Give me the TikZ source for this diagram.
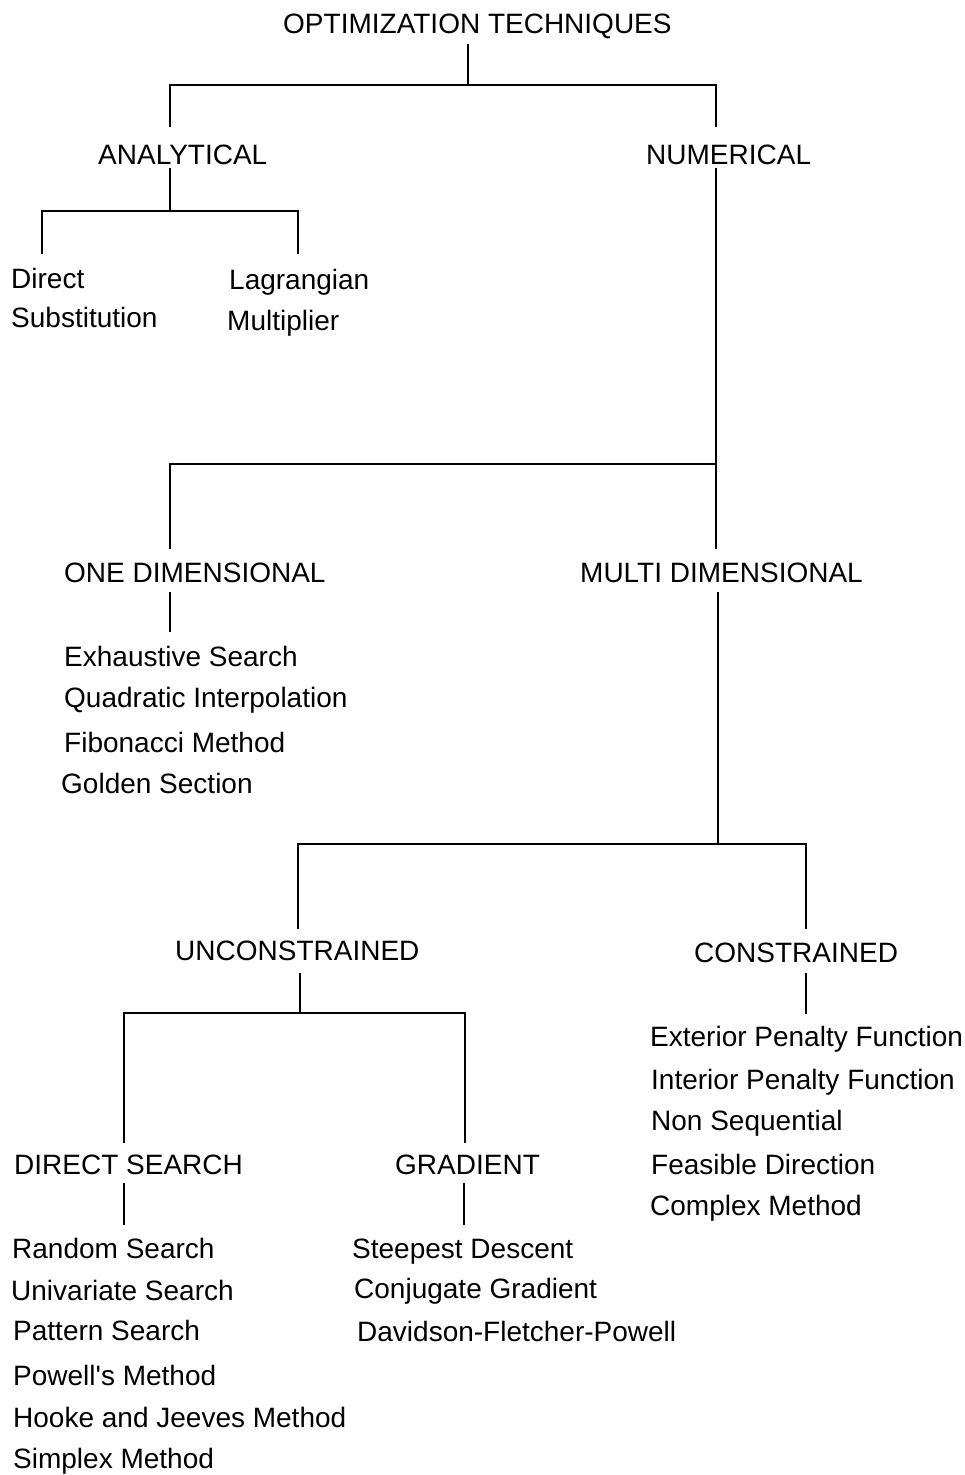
\documentclass[tikz,border=0pt]{standalone}
\usepackage{fontspec}
\setmainfont{Liberation Sans}
\begin{document}
\begin{tikzpicture}[x=1pt,y=-1pt,
  lbl/.style={anchor=base west,inner sep=0pt,font=\fontsize{28}{34}\selectfont},
  tree/.style={line width=1.8pt,line cap=butt,line join=miter}]
\useasboundingbox (0,0) rectangle (965,1475);

% ---------- labels ----------
\node[lbl] (opt)   at (283,33)  {OPTIMIZATION TECHNIQUES};
\node[lbl] (ana)   at (98,164)  {ANALYTICAL};
\node[lbl] (num)   at (646,164) {NUMERICAL};
\node[lbl] (ds1)   at (11,288)  {Direct};
\node[lbl] (ds2)   at (11,327)  {Substitution};
\node[lbl] (lm1)   at (229,289) {Lagrangian};
\node[lbl] (lm2)   at (227,330) {Multiplier};
\node[lbl] (one)   at (64,582)  {ONE DIMENSIONAL};
\node[lbl] (multi) at (580,582) {MULTI DIMENSIONAL};
\node[lbl] (o1)    at (64,666)  {Exhaustive Search};
\node[lbl] (o2)    at (64,707)  {Quadratic Interpolation};
\node[lbl] (o3)    at (64,752)  {Fibonacci Method};
\node[lbl] (o4)    at (61,793)  {Golden Section};
\node[lbl] (unc)   at (175,960) {UNCONSTRAINED};
\node[lbl] (con)   at (694,962) {CONSTRAINED};
\node[lbl] (c1)    at (650,1046) {Exterior Penalty Function};
\node[lbl] (c2)    at (651,1089) {Interior Penalty Function};
\node[lbl] (c3)    at (651,1130) {Non Sequential};
\node[lbl] (c4)    at (651,1174) {Feasible Direction};
\node[lbl] (c5)    at (650,1215) {Complex Method};
\node[lbl] (dir)   at (14,1174) {DIRECT SEARCH};
\node[lbl] (grad)  at (395,1174) {GRADIENT};
\node[lbl] (d1)    at (12,1258) {Random Search};
\node[lbl] (d2)    at (11,1300) {Univariate Search};
\node[lbl] (d3)    at (13,1340) {Pattern Search};
\node[lbl] (d4)    at (13,1385) {Powell\textquotesingle s Method};
\node[lbl] (d5)    at (13,1427) {Hooke and Jeeves Method};
\node[lbl] (d6)    at (13,1468) {Simplex Method};
\node[lbl] (g1)    at (352,1258) {Steepest Descent};
\node[lbl] (g2)    at (354,1298) {Conjugate Gradient};
\node[lbl] (g3)    at (357,1341) {Davidson-Fletcher-Powell};

% ---------- junction points ----------
% top level
\coordinate (optS)  at (468,44);
\coordinate (optJ)  at (468,85);
\coordinate (anaT)  at (170,85);
\coordinate (numT)  at (716,85);
\coordinate (anaN)  at (170,127);
\coordinate (numN)  at (716,127);
% analytical branch
\coordinate (anaS)  at (170,168);
\coordinate (anaJ)  at (170,211);
\coordinate (dsT)   at (42,211);
\coordinate (lmT)   at (298,211);
\coordinate (dsN)   at (42,254);
\coordinate (lmN)   at (298,254);
% numerical branch
\coordinate (numS)  at (716,168);
\coordinate (numJ)  at (716,464);
\coordinate (oneT)  at (170,464);
\coordinate (oneN)  at (170,549);
\coordinate (mulN)  at (716,549);
% one dimensional
\coordinate (oneS)  at (170,592);
\coordinate (oneE)  at (170,632);
% multi dimensional
\coordinate (mulS)  at (718,592);
\coordinate (mulJ)  at (718,844);
\coordinate (uncT)  at (298,844);
\coordinate (conT)  at (806,844);
\coordinate (uncN)  at (298,929);
\coordinate (conN)  at (806,929);
% unconstrained
\coordinate (uncS)  at (300,973);
\coordinate (uncJ)  at (300,1013);
\coordinate (dirT)  at (124,1013);
\coordinate (graT)  at (465,1013);
\coordinate (dirN)  at (124,1143);
\coordinate (graN)  at (465,1143);
% constrained
\coordinate (conS)  at (806,973);
\coordinate (conE)  at (806,1014);
% leaves of direct search / gradient
\coordinate (dirS)  at (124,1183);
\coordinate (dirE)  at (124,1225);
\coordinate (graS)  at (464,1183);
\coordinate (graE)  at (464,1225);

% ---------- connectors ----------
\draw[tree] (optS) -- (optJ);
\draw[tree] (anaN) -- (anaT) -- (numT) -- (numN);

\draw[tree] (anaS) -- (anaJ);
\draw[tree] (dsN) -- (dsT) -- (lmT) -- (lmN);

\draw[tree] (numS) -- (mulN);
\draw[tree] (oneN) -- (oneT) -- (numJ);

\draw[tree] (oneS) -- (oneE);

\draw[tree] (mulS) -- (mulJ);
\draw[tree] (uncN) -- (uncT) -- (conT) -- (conN);

\draw[tree] (uncS) -- (uncJ);
\draw[tree] (dirN) -- (dirT) -- (graT) -- (graN);

\draw[tree] (conS) -- (conE);

\draw[tree] (dirS) -- (dirE);
\draw[tree] (graS) -- (graE);
\end{tikzpicture}
\end{document}
